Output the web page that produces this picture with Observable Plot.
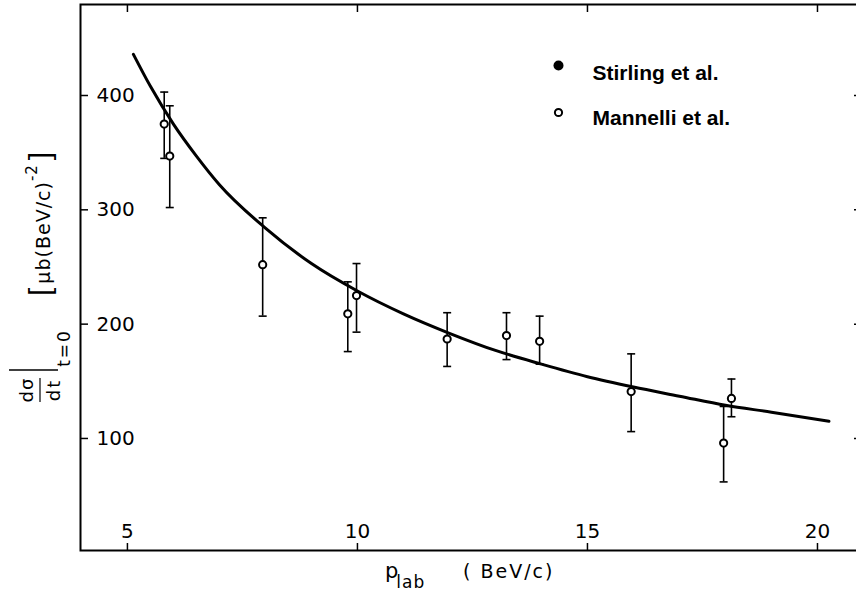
<!DOCTYPE html>
<html><head><meta charset="utf-8">
<script src="https://cdn.jsdelivr.net/npm/d3@7"></script>
<script src="https://cdn.jsdelivr.net/npm/@observablehq/plot@0.6"></script>
<style>html,body{margin:0;padding:0;background:#fff;overflow:hidden;}</style>
</head><body><div id="chart"></div>
<script>
// ---- data ----
const xTicks = [5, 10, 15, 20];
const yTicks = [100, 200, 300, 400];

// Mannelli et al. (open circles): p_lab (BeV/c), dσ/dt at t=0, error bar low/high
const mannelliP     = [5.80, 5.92, 7.94, 9.79, 9.98, 11.95, 13.24, 13.96, 15.95, 17.96, 18.13];
const mannelliSigma = [375,  347,  252,  209,  225,  187,   190,   185,   141,   96,    135];
const mannelliLow   = [345,  302,  207,  176,  193,  163,   169,   165,   106,   62,    119];
const mannelliHigh  = [403,  391,  293,  237,  253,  210,   210,   207,   174,   128,   152];

// fitted curve
const fitP     = [5.13, 5.5, 6.0, 6.5, 7.0, 8.0, 9.0, 10.0, 11.0, 12.0, 13.0, 14.0, 15.0, 16.0, 17.0, 18.0, 19.0, 20.25];
const fitSigma = [436,  408, 375, 347, 322, 284, 253, 229,  209,  192,  177,  165,  154,  145,  137,  129,  123,  115];

const legendLabels = ["Stirling et al.", "Mannelli et al."];
const legendFilled = [true, false];

const xLabelMain = "p", xLabelSub = "lab", xLabelUnit = "( BeV/c)";
const yLabelNum = "dσ", yLabelDen = "dt", yLabelSub = "t=0", yLabelUnit = "μb(BeV/c)", yLabelExp = "-2";

// ---- build ----
const points = mannelliP.map((p, i) => ({p, s: mannelliSigma[i], lo: mannelliLow[i], hi: mannelliHigh[i]}));
const fit = fitP.map((p, i) => ({p, s: fitSigma[i]}));
const FONT = "DejaVu Sans, sans-serif";
const capSymbol = {draw(ctx) { ctx.moveTo(-4, 0); ctx.lineTo(4, 0); }};

const chart = Plot.plot({
  width: 860, height: 594,
  marginLeft: 80, marginTop: 4, marginBottom: 44, marginRight: 3,
  style: {fontFamily: FONT, background: "white", color: "black", overflow: "visible", maxWidth: "none"},
  x: {domain: [3.98, 20.87]},
  y: {domain: [2, 479.6]},
  marks: [
    Plot.frame({stroke: "black", strokeWidth: 2}),
    Plot.axisX(xTicks, {anchor: "bottom", tickSize: -7, tickFormat: () => "", label: null, strokeWidth: 1.5}),
    Plot.axisX(xTicks, {anchor: "top", tickSize: -7, tickFormat: () => "", label: null, strokeWidth: 1.5}),
    Plot.axisY(yTicks, {anchor: "left", tickSize: -8, tickFormat: () => "", label: null, strokeWidth: 1.5}),
    Plot.axisY(yTicks, {anchor: "right", tickSize: -4, tickFormat: () => "", label: null, strokeWidth: 1.5}),
    Plot.text(xTicks, {x: d => d, text: d => String(d), frameAnchor: "bottom", lineAnchor: "bottom", dy: -13, fontSize: 20, letterSpacing: 1.5}),
    Plot.text(yTicks, {y: d => d, text: d => String(d), frameAnchor: "left", textAnchor: "start", dx: 16, fontSize: 20, letterSpacing: 1.5}),
    // error bars
    Plot.ruleX(points, {x: "p", y1: "lo", y2: "hi", stroke: "black", strokeWidth: 1.6}),
    Plot.dot(points, {x: "p", y: "lo", symbol: capSymbol, stroke: "black", strokeWidth: 1.6, fill: "none"}),
    Plot.dot(points, {x: "p", y: "hi", symbol: capSymbol, stroke: "black", strokeWidth: 1.6, fill: "none"}),
    // fit curve
    Plot.line(fit, {x: "p", y: "s", curve: "monotone-x", stroke: "black", strokeWidth: 3}),
    // data points
    Plot.dot(points, {x: "p", y: "s", r: 3.6, stroke: "black", strokeWidth: 2, fill: "white"}),
    // legend
    Plot.dot([legendFilled[0]], {frameAnchor: "top-left", dx: 478, dy: 61, r: 5, fill: "black", stroke: "none"}),
    Plot.dot([legendFilled[1]], {frameAnchor: "top-left", dx: 478, dy: 108, r: 3.6, fill: "white", stroke: "black", strokeWidth: 2}),
    Plot.text([legendLabels[0]], {text: d => d, frameAnchor: "top-left", dx: 512, dy: 61, textAnchor: "start", fontSize: 21, fontWeight: "bold", fontFamily: "Liberation Sans, Arial, sans-serif"}),
    Plot.text([legendLabels[1]], {text: d => d, frameAnchor: "top-left", dx: 512, dy: 106, textAnchor: "start", fontSize: 21, fontWeight: "bold", fontFamily: "Liberation Sans, Arial, sans-serif"})
  ]
});
document.getElementById("chart").appendChild(chart);

// ---- axis titles as real text ----
const svg = d3.select(chart);
const g = svg.append("g").attr("font-family", FONT).attr("fill", "black").attr("text-anchor", "start");
// x title
const xt = g.append("text").attr("x", 385).attr("y", 578).attr("font-size", 21);
xt.append("tspan").text(xLabelMain);
xt.append("tspan").attr("dy", 10).attr("dx", -2).attr("font-size", 17).attr("letter-spacing", 1).text(xLabelSub);
g.append("text").attr("x", 463).attr("y", 578).attr("font-size", 19).attr("letter-spacing", 2).text(xLabelUnit);
// y title, rotated
const yl = g.append("g").attr("transform", "rotate(-90)");
yl.append("text").attr("x", -390).attr("y", 33).attr("text-anchor", "middle").attr("font-size", 18).attr("letter-spacing", 1).text(yLabelNum);
yl.append("text").attr("x", -390).attr("y", 60).attr("text-anchor", "middle").attr("font-size", 18).attr("letter-spacing", 2).text(yLabelDen);
yl.append("line").attr("x1", -402).attr("x2", -378).attr("y1", 40).attr("y2", 40).attr("stroke", "black").attr("stroke-width", 1.2);
yl.append("line").attr("x1", -370).attr("x2", -370).attr("y1", 9).attr("y2", 58).attr("stroke", "black").attr("stroke-width", 1.5);
yl.append("text").attr("x", -348).attr("y", 70).attr("text-anchor", "middle").attr("font-size", 17).attr("letter-spacing", 2).text(yLabelSub);
const yu = yl.append("text").attr("x", -296).attr("y", 50).attr("font-size", 19).attr("letter-spacing", 1);
yu.append("tspan").attr("font-size", 30).attr("font-family", "Liberation Sans, Arial, sans-serif").attr("letter-spacing", 0).text("[");
yu.append("tspan").attr("dx", 4).text(yLabelUnit);
yu.append("tspan").attr("dy", -13).attr("font-size", 15).text(yLabelExp);
yu.append("tspan").attr("dy", 13).attr("dx", 4).attr("font-size", 30).attr("font-family", "Liberation Sans, Arial, sans-serif").text("]");
</script></body></html>
